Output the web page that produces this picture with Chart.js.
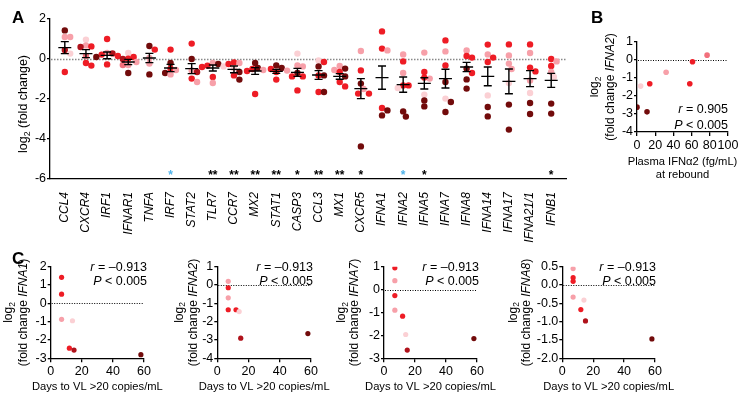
<!DOCTYPE html>
<html><head><meta charset="utf-8">
<script src="https://cdn.jsdelivr.net/npm/chart.js@4"></script>
<style>
body{margin:0;background:#fff;width:746px;height:407px;overflow:hidden;position:relative;font-family:"Liberation Sans",Arial,sans-serif;color:#000}
canvas{position:absolute}
.lbl{position:absolute;font-weight:bold;font-size:17px;line-height:17px}
.stat{position:absolute;font-size:12.5px;text-align:right;width:90px;white-space:nowrap}
</style></head><body>
<canvas id="cA" width="580" height="262" style="left:0;top:0"></canvas>
<canvas id="cB" width="156" height="170" style="left:590px;top:20px"></canvas>
<canvas id="cC1" width="180" height="152" style="left:0;top:255px"></canvas>
<canvas id="cC2" width="175" height="152" style="left:167px;top:255px"></canvas>
<canvas id="cC3" width="175" height="152" style="left:334px;top:255px"></canvas>
<canvas id="cC4" width="185" height="152" style="left:500px;top:255px"></canvas>
<div class="lbl" style="left:12px;top:9px">A</div>
<div class="lbl" style="left:591px;top:9px">B</div>
<div class="lbl" style="left:12px;top:250px">C</div>
<div class="stat" style="left:638px;top:101px;line-height:16px"><i>r</i> = 0.905<br><i>P</i> &lt; 0.005</div>
<div class="stat" style="left:57px;top:261px;line-height:13.5px"><i>r</i> = –0.913<br><i>P</i> &lt; 0.005</div>
<div class="stat" style="left:223px;top:261px;line-height:13.5px"><i>r</i> = –0.913<br><i>P</i> &lt; 0.005</div>
<div class="stat" style="left:389px;top:261px;line-height:13.5px"><i>r</i> = –0.913<br><i>P</i> &lt; 0.005</div>
<div class="stat" style="left:566px;top:261px;line-height:13.5px"><i>r</i> = –0.913<br><i>P</i> &lt; 0.005</div>
<script>
// ---------- Panel A data ----------
const genes = ['CCL4','CXCR4','IRF1','IFNAR1','TNFA','IRF7','STAT2','TLR7','CCR7','MX2','STAT1','CASP3','CCL3','MX1','CXCR5','IFNA1','IFNA2','IFNA5','IFNA7','IFNA8','IFNA14','IFNA17','IFNA21/1','IFNB1'];
const geneValues = [
  [1.43,1.1,1.1,0.45,0.27,-0.65],
  [0.97,0.68,0.63,0.6,0.15,-0.2,-0.33],
  [1.0,0.3,0.28,0.22,0.15,0.1,-0.27],
  [0.3,0.1,0.02,0.0,-0.15,-0.3,-0.3,-0.7],
  [0.65,0.47,0.05,-0.23,-0.77],
  [0.47,-0.2,-0.48,-0.55,-0.7,-0.77],
  [0.77,0.0,-0.57,-0.65,-0.98,-1.15],
  [-0.2,-0.25,-0.33,-0.37,-0.4,-0.9,-1.2],
  [-0.17,-0.2,-0.25,-0.48,-0.65,-0.82,-1.03],
  [-0.2,-0.45,-0.5,-0.55,-0.6,-1.75],
  [-0.32,-0.45,-0.5,-0.58,-0.65,-1.03],
  [0.27,-0.32,-0.37,-0.7,-0.87,-0.87,-1.57],
  [-0.07,-0.15,-0.37,-0.82,-0.82,-1.65,-1.65],
  [-0.35,-0.48,-0.55,-0.65,-0.87,-1.15,-1.37],
  [0.4,-0.57,-1.23,-1.5,-1.73,-1.73,-4.37],
  [1.38,0.52,0.43,-2.45,-2.57,-2.82],
  [0.23,-0.12,-0.7,-1.32,-1.32,-1.45,-2.62,-2.88],
  [0.32,-0.65,-0.93,-0.98,-1.78,-2.07,-2.37],
  [0.93,0.38,-0.32,-1.15,-1.98,-2.15,-2.65],
  [0.43,0.15,0.07,-0.48,-0.7,-1.02,-1.48],
  [0.72,0.23,0.07,-0.15,-1.82,-2.4,-2.87],
  [0.73,0.18,-0.23,-0.5,-1.2,-2.28,-3.53],
  [0.73,0.3,-0.43,-0.62,-1.07,-1.7,-2.2,-2.75],
  [0.0,-0.12,-0.35,-0.65,-0.9,-2.23,-2.73]
];
const geneShades = ['MLLDVR','VLRDPRR','RLDRRMR','VRRDLLPM','MRLLM','RMRLML','RMLDRL','LMRVRRL','RLRVMRM','MMRLRR','MMRLRR','VLLMRRR','VRMRMRM','LMLRMRR','LRMLRRM','RRLRMM','LRLRRVMM','LRRLVMM','RLRMVMM','LRRMRMM','RLRRVMM','RLLLVMM','RLRRLVMM','RLRLVMM'];
const geneMeans = [0.57,0.27,0.18,-0.15,0.05,-0.45,-0.48,-0.45,-0.52,-0.6,-0.62,-0.67,-0.8,-0.87,-1.48,-0.93,-1.28,-1.22,-0.98,-0.4,-0.87,-1.12,-0.98,-1.07];
const geneSems = [0.3,0.2,0.17,0.13,0.23,0.18,0.25,0.15,0.17,0.17,0.1,0.2,0.22,0.14,0.5,0.58,0.38,0.28,0.47,0.23,0.47,0.62,0.4,0.35];
const geneStars = ['','','','','','*','','**','**','**','**','*','**','**','*','','*','*','','','','','','*'];
const blueStarGenes = ['IRF7','IFNA2'];

// ---------- Panel B data ----------
const plasmaIFNa2 = [0,4,11,14,32,58,61,77];
const foldIFNA2vsPlasma = [-2.62,-1.45,-2.88,-1.32,-0.68,-1.32,-0.1,0.27];
const shadesB = 'MVMRLRRP';

// ---------- Panel C data ----------
const daysC1 = [7,7,7,14,12,15,58];
const foldIFNA1 = [1.42,0.5,-0.87,-0.95,-2.45,-2.55,-2.8];
const shadesC1 = 'RRLVRDM';
const daysC2 = [7,7,7,7,12,14,15,58];
const foldIFNA2 = [0.2,-0.15,-0.7,-1.35,-1.35,-1.45,-2.9,-2.65];
const shadesC2 = 'LRLRRVDM';
const daysC3 = [7,7,7,7,12,14,15,58];
const foldIFNA7 = [0.95,0.39,-0.26,-0.9,-1.16,-1.96,-2.64,-2.14];
const shadesC3 = 'RLRLRVDM';
const daysC4 = [7,7,7,7,14,12,15,58];
const foldIFNA8 = [0.45,0.2,0.1,-0.33,-0.41,-0.67,-0.98,-1.47];
const shadesC4 = 'LRRLVRDM';

const FONT = '"Liberation Sans", Arial, Helvetica, sans-serif';
const shadeColor = {V:'#FBD0D4', L:'#F7A0A9', P:'#F2707C', R:'#EE1C25', D:'#B0121B', M:'#720B0B'};

// simple beeswarm offsets (in data units of x) computed from pixel collisions
function swarm(values, pxY, pxX, diam) {
  const placed = [];
  return values.map(v => {
    const yp = v * pxY;
    const cands = [0];
    for (let k = 1; k < 10; k++) { cands.push(k * diam / 2, -k * diam / 2); }
    let dx = 0;
    for (const c of cands) {
      if (placed.every(p => (c - p.x) ** 2 + (yp - p.y) ** 2 >= diam * diam)) { dx = c; break; }
    }
    placed.push({x: dx, y: yp});
    return dx / pxX;
  });
}

function drawRich(ctx, segs, x, y, rotate, size) {
  ctx.save();
  ctx.translate(x, y);
  if (rotate) ctx.rotate(-Math.PI / 2);
  ctx.textBaseline = 'middle';
  ctx.textAlign = 'left';
  ctx.fillStyle = '#000';
  const fontOf = s => (s.italic ? 'italic ' : '') + (s.sub ? size * 0.7 : size) + 'px ' + FONT;
  let total = 0;
  const ws = segs.map(s => { ctx.font = fontOf(s); const w = ctx.measureText(s.t).width; total += w; return w; });
  let cx = -total / 2;
  segs.forEach((s, i) => { ctx.font = fontOf(s); ctx.fillText(s.t, cx, s.sub ? size * 0.32 : 0); cx += ws[i]; });
  ctx.restore();
}

function zeroLine(chart, color, dash, lw) {
  const {ctx, chartArea, scales: {y}} = chart;
  const py = Math.round(y.getPixelForValue(0)) + 0.5;
  ctx.save();
  ctx.strokeStyle = color; ctx.lineWidth = lw; ctx.setLineDash(dash);
  ctx.beginPath(); ctx.moveTo(chartArea.left + 1, py); ctx.lineTo(chartArea.right, py); ctx.stroke();
  ctx.restore();
}

const axisBorder = {display: true, color: '#000', width: 1.3};

// ---------- Panel A ----------
const ptsA = [];
genes.forEach((g, i) => {
  const offs = swarm(geneValues[i], 20, 21.15, 5.4);
  geneValues[i].forEach((v, k) => ptsA.push({x: i + offs[k], y: v, c: shadeColor[geneShades[i][k]]}));
});

const plugA = {
  id: 'plugA',
  beforeDatasetsDraw(chart) { zeroLine(chart, '#888', [1.5, 1.5], 1.4); },
  afterDatasetsDraw(chart) {
    const {ctx, scales: {x, y}} = chart;
    ctx.save();
    ctx.strokeStyle = '#000'; ctx.lineWidth = 1.4;
    genes.forEach((g, i) => {
      const px = x.getPixelForValue(i);
      const pm = y.getPixelForValue(geneMeans[i]);
      const pt = y.getPixelForValue(geneMeans[i] + geneSems[i]);
      const pb = y.getPixelForValue(geneMeans[i] - geneSems[i]);
      ctx.beginPath();
      ctx.moveTo(px - 6.5, pm); ctx.lineTo(px + 6.5, pm);
      ctx.moveTo(px, pt); ctx.lineTo(px, pb);
      ctx.moveTo(px - 4, pt); ctx.lineTo(px + 4, pt);
      ctx.moveTo(px - 4, pb); ctx.lineTo(px + 4, pb);
      ctx.stroke();
      if (geneStars[i]) {
        ctx.font = 'bold 12px ' + FONT;
        ctx.textAlign = 'center'; ctx.textBaseline = 'middle';
        ctx.fillStyle = blueStarGenes.includes(g) ? '#4FB3EA' : '#000';
        ctx.fillText(geneStars[i], px, y.getPixelForValue(-5.68) + 3);
      }
    });
    ctx.restore();
    drawRich(ctx, [{t: 'log'}, {t: '2', sub: true}, {t: ' (fold change)'}], 24, 104, true, 12.5);
  }
};

new Chart(document.getElementById('cA'), {
  type: 'scatter',
  data: {datasets: [{data: ptsA.map(p => ({x: p.x, y: p.y})), pointBackgroundColor: ptsA.map(p => p.c), pointBorderWidth: 0, pointRadius: 3.2, pointHoverRadius: 3.2}]},
  options: {
    animation: false, responsive: false, events: [],
    layout: {padding: {top: 19, right: 14, left: 0, bottom: 0}},
    plugins: {legend: {display: false}, tooltip: {enabled: false}},
    scales: {
      x: {type: 'linear', min: -0.7, max: 23.7,
        afterFit: s => { s.height = 83; },
        afterBuildTicks: s => { s.ticks = genes.map((g, i) => ({value: i})); },
        border: axisBorder, grid: {display: false},
        ticks: {autoSkip: false, minRotation: 90, maxRotation: 90, padding: 5, color: '#000',
          font: {family: FONT, size: 12, style: 'italic'}, callback: v => genes[v]}},
      y: {min: -6, max: 2,
        afterFit: s => { s.width = 50; },
        border: axisBorder,
        grid: {drawOnChartArea: false, drawTicks: true, tickLength: 3, color: '#000', lineWidth: 1.3},
        ticks: {stepSize: 2, padding: 1, color: '#000', font: {family: FONT, size: 12.5}}}
    }
  },
  plugins: [plugA]
});

// ---------- small scatter builder (B and C) ----------
function smallChart(id, xs, ys, shades, c) {
  const plug = {
    id: 'p' + id,
    beforeDatasetsDraw(chart) { zeroLine(chart, '#000', [1, 1.5], 1); },
    afterDraw(chart) {
      const {ctx, chartArea: a} = chart;
      const cy = (a.top + a.bottom) / 2;
      drawRich(ctx, [{t: 'log'}, {t: '2', sub: true}], a.left + c.tOff[0], cy, true, 12);
      drawRich(ctx, c.yTitle, a.left + c.tOff[1], cy, true, 12);
      c.xTitle.forEach((line, k) => drawRich(ctx, [{t: line}], (a.left + a.right) / 2, a.bottom + c.xTitleY + k * 13, false, c.xTitleSize));
    }
  };
  return new Chart(document.getElementById(id), {
    type: 'scatter',
    data: {datasets: [{data: xs.map((x, i) => ({x, y: ys[i]})), pointBackgroundColor: shades.split('').map(s => shadeColor[s]), pointBorderWidth: 0, pointRadius: c.r, pointHoverRadius: c.r}]},
    options: {
      animation: false, responsive: false, events: [],
      layout: {padding: {top: c.padTop, right: c.padRight, left: 0, bottom: 0}},
      plugins: {legend: {display: false}, tooltip: {enabled: false}},
      scales: {
        x: {type: 'linear', min: c.xMin, max: c.xMax,
          afterFit: s => { s.height = c.xH; },
          border: axisBorder,
          grid: {drawOnChartArea: false, drawTicks: true, tickLength: 4, color: '#000', lineWidth: 1.3},
          ticks: {stepSize: c.xStep, autoSkip: false, maxRotation: 0, padding: 2, color: '#000', font: {family: FONT, size: 12.5}}},
        y: {min: c.yMin, max: c.yMax,
          afterFit: s => { s.width = c.yW; },
          border: axisBorder,
          grid: {drawOnChartArea: false, drawTicks: true, tickLength: 3, color: '#000', lineWidth: 1.3},
          ticks: {stepSize: c.yStep, padding: 1, color: '#000', font: {family: FONT, size: 12.5},
            callback: c.yFmt || (v => String(v))}}
      }
    },
    plugins: [plug]
  });
}

const foldTitle = g => [{t: '(fold change '}, {t: g, italic: true}, {t: ')'}];
const cCommon = {xMin: 0, xMax: 60, xStep: 20, padTop: 11.7, xH: 48.7, r: 2.6, xTitleY: 29, xTitleSize: 11.2, xTitle: ['Days to VL >20 copies/mL']};

smallChart('cB', plasmaIFNa2, foldIFNA2vsPlasma, shadesB, {
  xMin: 0, xMax: 100, xStep: 20, yMin: -4, yMax: 1, yStep: 1, yW: 47, xH: 58, padTop: 22, padRight: 18, r: 2.8,
  tOff: [-42, -26], yTitle: foldTitle('IFNA2'), xTitle: ['Plasma IFNα2 (fg/mL)', 'at rebound'], xTitleY: 30, xTitleSize: 11.2});
smallChart('cC1', daysC1, foldIFNA1, shadesC1, Object.assign({}, cCommon, {yMin: -3, yMax: 2, yStep: 1, yW: 50.7, padRight: 36, tOff: [-42, -27], yTitle: foldTitle('IFNA1')}));
smallChart('cC2', daysC2, foldIFNA2, shadesC2, Object.assign({}, cCommon, {yMin: -4, yMax: 1, yStep: 1, yW: 50.3, padRight: 31, tOff: [-38, -24], yTitle: foldTitle('IFNA2')}));
smallChart('cC3', daysC3, foldIFNA7, shadesC3, Object.assign({}, cCommon, {yMin: -3, yMax: 1, yStep: 1, yW: 50, padRight: 32, tOff: [-42, -29], yTitle: foldTitle('IFNA7')}));
smallChart('cC4', daysC4, foldIFNA8, shadesC4, Object.assign({}, cCommon, {yMin: -2, yMax: 0.5, yStep: 0.5, yW: 62.3, padRight: 30, tOff: [-49, -36], yTitle: foldTitle('IFNA8'), yFmt: v => v.toFixed(1)}));
</script>
</body></html>
